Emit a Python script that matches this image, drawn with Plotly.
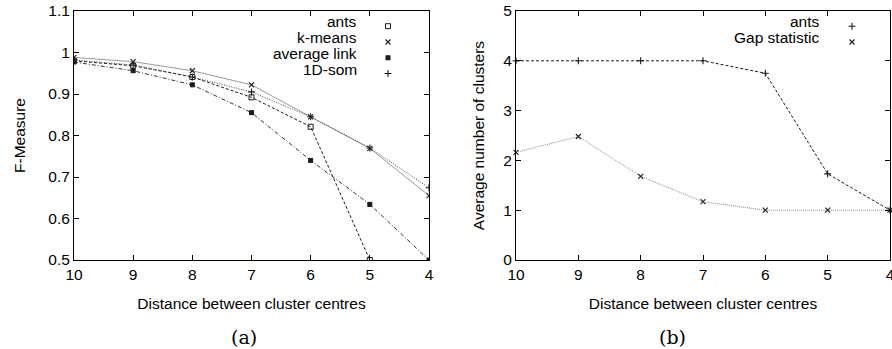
import plotly.graph_objects as go

# ---- data ----
distances = [10, 9, 8, 7, 6, 5, 4]

# (a) F-Measure
fm_ants = [0.98, 0.968, 0.941, 0.892, 0.821, 0.50]
fm_ants_x = [10, 9, 8, 7, 6, 5]
fm_kmeans = [0.988, 0.978, 0.956, 0.922, 0.845, 0.769, 0.655]
fm_avglink = [0.977, 0.956, 0.922, 0.855, 0.740, 0.634, 0.50]
fm_som = [0.982, 0.970, 0.941, 0.905, 0.845, 0.770, 0.674]

# (b) Average number of clusters
nc_ants = [4, 4, 4, 4, 3.75, 1.73, 1.0]
nc_gap = [2.16, 2.48, 1.68, 1.17, 1.0, 1.0, 1.0]

legend_a = ["ants", "k-means", "average link", "1D-som"]
legend_b = ["ants", "Gap statistic"]
yticks_a = [0.5, 0.6, 0.7, 0.8, 0.9, 1.0, 1.1]
yticks_b = [0, 1, 2, 3, 4, 5]

W, H = 892, 349
FONT = "Liberation Sans"
FS = 15.5

def px(x):
    return x / W

def py(y):
    return 1 - y / H

fig = go.Figure()

styles_a = [
    (fm_ants_x, fm_ants, dict(color="#1a1a1a", width=1, dash="3px,2px"), dict(symbol="square-open", size=5, color="#1a1a1a", line=dict(width=1))),
    (distances, fm_kmeans, dict(color="#9a9a9a", width=1, dash="solid"), dict(symbol="x-thin", size=5, color="#1a1a1a", line=dict(width=1.1, color="#1a1a1a"))),
    (distances, fm_avglink, dict(color="#333333", width=1, dash="4px,2px,1px,2px"), dict(symbol="square-x", size=4, color="#1a1a1a", line=dict(width=1, color="#1a1a1a"))),
    (distances, fm_som, dict(color="#444444", width=1, dash="1px,1.5px"), dict(symbol="cross-thin", size=5, color="#1a1a1a", line=dict(width=1.1, color="#1a1a1a"))),
]

for i, (xs, ys, ln, mk) in enumerate(styles_a):
    fig.add_trace(go.Scatter(x=xs, y=ys, mode="lines+markers", line=ln, marker=mk,
                             showlegend=False, xaxis="x", yaxis="y", hoverinfo="skip"))

styles_b = [
    (nc_ants, dict(color="#1a1a1a", width=1, dash="3px,2px"), dict(symbol="cross-thin", size=5, color="#1a1a1a", line=dict(width=1.1, color="#1a1a1a"))),
    (nc_gap, dict(color="#8a8a8a", width=1, dash="1px,1px"), dict(symbol="x-thin", size=5, color="#1a1a1a", line=dict(width=1.1, color="#1a1a1a"))),
]
for ys, ln, mk in styles_b:
    fig.add_trace(go.Scatter(x=distances, y=ys, mode="lines+markers", line=ln, marker=mk,
                             showlegend=False, xaxis="x2", yaxis="y2", cliponaxis=False, hoverinfo="skip"))

# legend entries (one legend per entry so spacing matches)
leg_rows_a = [21.7, 37.5, 53.3, 69]
leg_rows_b = [21.7, 37.5]
layout_legends = {}
k = 1
annotations = []
for j, name in enumerate(legend_a):
    key = "legend" if k == 1 else f"legend{k}"
    mk = styles_a[j][3]
    fig.add_trace(go.Scatter(x=[None], y=[None], mode="markers", marker=mk, name=" ",
                             showlegend=True, legend=key, xaxis="x", yaxis="y"))
    layout_legends[key] = dict(x=px(388 - 20), y=py(leg_rows_a[j] - 10), xanchor="left", yanchor="top",
                               bgcolor="rgba(0,0,0,0)", borderwidth=0, itemwidth=30,
                               font=dict(family=FONT, size=10))
    annotations.append(dict(x=px(359), y=py(leg_rows_a[j]), xref="paper", yref="paper", text=name,
                            xanchor="right", yanchor="middle", showarrow=False,
                            font=dict(family=FONT, size=FS, color="#000")))
    k += 1
for j, name in enumerate(legend_b):
    key = f"legend{k}"
    mk = styles_b[j][2]
    fig.add_trace(go.Scatter(x=[None], y=[None], mode="markers", marker=mk, name=" ",
                             showlegend=True, legend=key, xaxis="x2", yaxis="y2"))
    layout_legends[key] = dict(x=px(852 - 20), y=py(leg_rows_b[j] - 10), xanchor="left", yanchor="top",
                               bgcolor="rgba(0,0,0,0)", borderwidth=0, itemwidth=30,
                               font=dict(family=FONT, size=10))
    annotations.append(dict(x=px(822), y=py(leg_rows_b[j]), xref="paper", yref="paper", text=name,
                            xanchor="right", yanchor="middle", showarrow=False,
                            font=dict(family=FONT, size=FS, color="#000")))
    k += 1

annotations.append(dict(x=px(244), y=py(337), xref="paper", yref="paper", text="(a)",
                        xanchor="center", yanchor="middle", showarrow=False,
                        font=dict(family="DejaVu Serif", size=19, color="#000")))
annotations.append(dict(x=px(672), y=py(337), xref="paper", yref="paper", text="(b)",
                        xanchor="center", yanchor="middle", showarrow=False,
                        font=dict(family="DejaVu Serif", size=19, color="#000")))

axis_common = dict(showline=True, linecolor="#000", linewidth=1, mirror="allticks",
                   ticks="inside", ticklen=5, tickcolor="#000", tickwidth=1,
                   showgrid=False, zeroline=False, automargin=False,
                   ticklabeloverflow="allow",
                   tickfont=dict(family=FONT, size=FS, color="#000"))
title_font = dict(family=FONT, size=FS, color="#000")

fig.update_layout(
    width=W, height=H,
    margin=dict(l=0, r=0, t=0, b=0),
    paper_bgcolor="white", plot_bgcolor="white",
    hovermode=False,
    xaxis=dict(domain=[px(74), px(429)], range=[10, 4], tickvals=distances, anchor="y",
               title=dict(text="Distance between cluster centres", standoff=16, font=title_font), **axis_common),
    yaxis=dict(domain=[py(260), py(11)], range=[0.5, 1.1], tickvals=yticks_a, anchor="x",
               title=dict(text="F-Measure", standoff=18, font=title_font), **axis_common),
    xaxis2=dict(domain=[px(516), px(890)], range=[10, 4], tickvals=distances, anchor="y2",
                title=dict(text="Distance between cluster centres", standoff=16, font=title_font), **axis_common),
    yaxis2=dict(domain=[py(260), py(11)], range=[0, 5], tickvals=yticks_b, anchor="x2",
                title=dict(text="Average number of clusters", standoff=14, font=title_font), **axis_common),
    annotations=annotations,
    **layout_legends,
)

fig.write_html("out.html", config={"displayModeBar": False},
               post_script="document.body.style.margin='0px';")
